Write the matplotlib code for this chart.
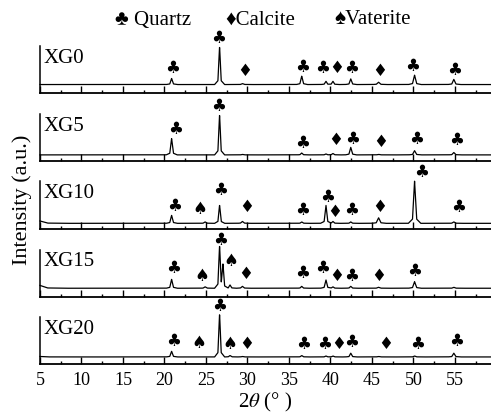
import numpy as np
import matplotlib
matplotlib.use('Agg')
import matplotlib.pyplot as plt
from matplotlib.ticker import MultipleLocator

plt.rcParams['font.family'] = ['Liberation Serif', 'DejaVu Sans']
plt.rcParams['mathtext.fontset'] = 'stix'

# --- data -----------------------------------------------------------------
samples = ['XG0', 'XG5', 'XG10', 'XG15', 'XG20']

# reflections (2theta, deg) and their widths; first entry is the low-angle background
peak_2theta = [5.0, 20.86, 24.9, 26.64, 27.05, 27.9, 29.4, 36.54, 39.46, 40.3, 42.45, 45.8, 50.14, 54.87]
peak_width  = [0.9, 0.22, 0.25, 0.20, 0.20, 0.22, 0.25, 0.22, 0.22, 0.22, 0.22, 0.28, 0.25, 0.25]

# peak heights above baseline (0-100 = panel height)
baseline = [18, 13, 11, 18, 15]
xg0_int  = [0, 13, 0, 81, 0, 0, 2, 18, 7, 7, 12, 5, 20, 11]
xg5_int  = [0, 35, 0, 86, 0, 0, 1, 4, 2, 3, 16, 1, 9, 5]
xg10_int = [5, 17, 3, 39, 0, 0, 4, 3, 39, 4, 3, 12, 90, 3]
xg15_int = [6, 19, 3, 89, 48, 7, 4, 4, 18, 3, 4, 2, 14, 2]
xg20_int = [1, 12, 0, 92, 0, 3, 1, 3, 2, 2, 8, 1, 2, 8]
intensity = [xg0_int, xg5_int, xg10_int, xg15_int, xg20_int]

# phase marks: Q = quartz, C = calcite, V = vaterite
xg0_mark_phase = ['Q', 'Q', 'C', 'Q', 'Q', 'C', 'Q', 'C', 'Q', 'Q']
xg0_mark_x     = [21.0, 26.5, 29.7, 36.7, 39.1, 40.8, 42.6, 45.9, 49.9, 55.0]
xg0_mark_y     = [53, 117, 47, 55, 53, 53, 53, 47, 57, 49]

xg5_mark_phase = ['Q', 'Q', 'Q', 'C', 'Q', 'C', 'Q', 'Q']
xg5_mark_x     = [21.3, 26.5, 36.6, 40.6, 42.7, 46.0, 50.4, 55.2]
xg5_mark_y     = [69, 117, 38, 45, 47, 40, 47, 45]

xg10_mark_phase = ['Q', 'V', 'Q', 'C', 'Q', 'Q', 'C', 'Q', 'C', 'Q', 'Q']
xg10_mark_x     = [21.2, 24.3, 26.8, 29.9, 36.7, 39.7, 40.5, 42.6, 45.9, 51.0, 55.4]
xg10_mark_y     = [48, 41, 82, 45, 39, 68, 36, 39, 46, 120, 45]

xg15_mark_phase = ['Q', 'V', 'Q', 'V', 'C', 'Q', 'Q', 'C', 'Q', 'C', 'Q']
xg15_mark_x     = [21.1, 24.5, 26.8, 28.0, 29.8, 36.6, 39.1, 40.7, 42.6, 45.8, 50.2]
xg15_mark_y     = [61, 44, 121, 75, 49, 50, 61, 44, 43, 44, 55]

xg20_mark_phase = ['Q', 'V', 'Q', 'V', 'C', 'Q', 'Q', 'C', 'Q', 'C', 'Q', 'Q']
xg20_mark_x     = [21.1, 24.1, 26.7, 27.9, 29.9, 36.8, 39.3, 41.0, 42.6, 46.6, 50.5, 55.2]
xg20_mark_y     = [49, 45, 124, 42, 43, 43, 43, 43, 47, 42, 42, 49]

mark_phase = [xg0_mark_phase, xg5_mark_phase, xg10_mark_phase, xg15_mark_phase, xg20_mark_phase]
mark_x = [xg0_mark_x, xg5_mark_x, xg10_mark_x, xg15_mark_x, xg20_mark_x]
mark_y = [xg0_mark_y, xg5_mark_y, xg10_mark_y, xg15_mark_y, xg20_mark_y]

symbol = {'Q': '\u2663', 'C': '\u2666', 'V': '\u2660'}

# --- figure ---------------------------------------------------------------
W, H = 491, 416
fig = plt.figure(figsize=(W / 100, H / 100), dpi=100)

panel_bottom_px = [93, 161, 228.5, 296.7, 364]
panel_h_px = 47
left_px = 40

two_theta = np.linspace(5, 60, 4000)


def profile(pos, hgt, wid):
    y = np.zeros_like(two_theta)
    for p, h, w in zip(pos, hgt, wid):
        if h == 0:
            continue
        sharp = np.clip(1 - np.abs(two_theta - p) / w, 0, None)
        foot = np.clip(1 - np.abs(two_theta - p) / (3 * w), 0, None)
        y += h * (0.85 * sharp + 0.15 * foot)
    return y


axes = []
for i, name in enumerate(samples):
    b = panel_bottom_px[i]
    ax = fig.add_axes([left_px / W, (H - b) / H, 1 - left_px / W, panel_h_px / H])
    axes.append(ax)

    y = baseline[i] + profile(peak_2theta, intensity[i], peak_width)
    ax.plot(two_theta, y, color='black', lw=0.9, clip_on=False)

    for ph, mx, my in zip(mark_phase[i], mark_x[i], mark_y[i]):
        ax.text(mx, my, symbol[ph], family='DejaVu Sans', fontsize=12,
                ha='center', va='center', clip_on=False)

    ax.text(0.008, 0.74, name, transform=ax.transAxes, fontsize=15,
            ha='left', va='center')

    ax.set_xlim(5, 59.35)
    ax.set_ylim(0, 100)
    ax.set_yticks([])
    ax.xaxis.set_major_locator(MultipleLocator(5))
    ax.xaxis.set_minor_locator(MultipleLocator(2.5))
    ax.tick_params(axis='x', which='major', direction='in', length=5, width=1)
    ax.tick_params(axis='x', which='minor', direction='in', length=2.5, width=1)
    for s in ['top', 'right']:
        ax.spines[s].set_visible(False)
    ax.spines['left'].set_linewidth(1.1)
    ax.spines['bottom'].set_linewidth(1.3)
    ax.patch.set_alpha(0)
    if i < len(samples) - 1:
        ax.set_xticklabels([])
    else:
        ax.tick_params(axis='x', labelsize=13, pad=6)
        ax.set_xlabel(r'2$\theta$ (° )', fontsize=15, labelpad=1)

# legend line
fig.text(115 / W, 1 - 20 / H, '\u2663 Quartz', fontsize=15, ha='left', va='center')
fig.text(225 / W, 1 - 20 / H, '\u2666Calcite', fontsize=15, ha='left', va='center')
fig.text(334 / W, 1 - 20 / H, '\u2660Vaterite', fontsize=15, ha='left', va='center')

fig.text(22 / W, 1 - 200 / H, 'Intensity (a.u.)', fontsize=16, rotation=90,
         ha='center', va='center')

fig.savefig('out.png', dpi=100)
